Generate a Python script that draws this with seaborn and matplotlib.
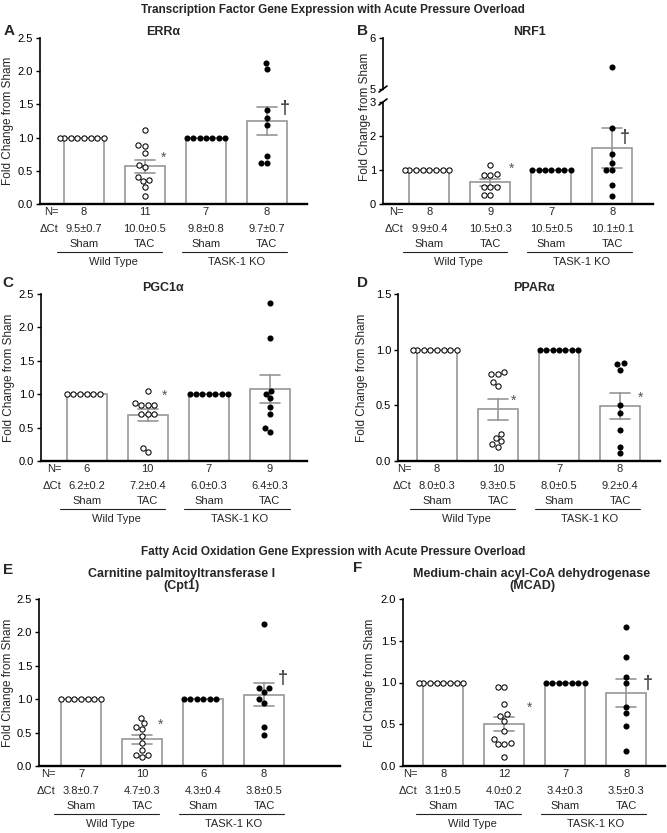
import numpy as np
import pandas as pd
import matplotlib
matplotlib.use("Agg")
import matplotlib.pyplot as plt
import matplotlib.transforms as mtransforms
from matplotlib.ticker import FormatStrFormatter
import seaborn as sns

sns.set_style("ticks")
plt.rcParams["font.family"] = ["Liberation Sans", "DejaVu Sans"]

W, H = 667, 833
groups = ["WT Sham", "WT TAC", "KO Sham", "KO TAC"]
cond_labels = ["Sham", "TAC", "Sham", "TAC"]
geno_labels = ["Wild Type", "TASK-1 KO"]

## A - ERRalpha
erra_wt_sham = [1, 1, 1, 1, 1, 1, 1, 1]
erra_wt_tac = [1.11, 0.87, 0.89, 0.77, 0.58, 0.55, 0.40, 0.36, 0.34, 0.25, 0.12]
erra_ko_sham = [1, 1, 1, 1, 1, 1, 1]
erra_ko_tac = [2.13, 2.04, 1.41, 1.29, 1.19, 0.73, 0.62, 0.62]
erra_n = ["8", "11", "7", "8"]
erra_dct = ["9.5±0.7", "10.0±0.5", "9.8±0.8", "9.7±0.7"]

## B - NRF1
nrf1_wt_sham = [1, 1, 1, 1, 1, 1, 1, 1]
nrf1_wt_tac = [1.15, 0.87, 0.85, 0.85, 0.49, 0.49, 0.49, 0.26, 0.26]
nrf1_ko_sham = [1, 1, 1, 1, 1, 1, 1]
nrf1_ko_tac = [5.44, 2.25, 1.47, 1.20, 1.00, 1.00, 0.56, 0.24]
nrf1_n = ["8", "9", "7", "8"]
nrf1_dct = ["9.9±0.4", "10.5±0.3", "10.5±0.5", "10.1±0.1"]

## C - PGC1alpha
pgc_wt_sham = [1, 1, 1, 1, 1, 1]
pgc_wt_tac = [1.05, 0.87, 0.84, 0.84, 0.84, 0.70, 0.70, 0.70, 0.19, 0.13]
pgc_ko_sham = [1, 1, 1, 1, 1, 1, 1]
pgc_ko_tac = [2.36, 1.84, 1.05, 1.01, 0.94, 0.81, 0.70, 0.50, 0.44]
pgc_n = ["6", "10", "7", "9"]
pgc_dct = ["6.2±0.2", "7.2±0.4", "6.0±0.3", "6.4±0.3"]

## D - PPARalpha
ppar_wt_sham = [1, 1, 1, 1, 1, 1, 1, 1]
ppar_wt_tac = [0.80, 0.78, 0.78, 0.71, 0.67, 0.24, 0.21, 0.18, 0.15, 0.13]
ppar_ko_sham = [1, 1, 1, 1, 1, 1, 1]
ppar_ko_tac = [0.88, 0.87, 0.82, 0.50, 0.43, 0.28, 0.13, 0.07]
ppar_n = ["8", "10", "7", "8"]
ppar_dct = ["8.0±0.3", "9.3±0.5", "8.0±0.5", "9.2±0.4"]

## E - Cpt1
cpt_wt_sham = [1, 1, 1, 1, 1, 1, 1]
cpt_wt_tac = [0.72, 0.64, 0.59, 0.55, 0.45, 0.34, 0.24, 0.17, 0.16, 0.14]
cpt_ko_sham = [1, 1, 1, 1, 1, 1]
cpt_ko_tac = [2.12, 1.17, 1.17, 1.11, 1.00, 0.94, 0.59, 0.46]
cpt_n = ["7", "10", "6", "8"]
cpt_dct = ["3.8±0.7", "4.7±0.3", "4.3±0.4", "3.8±0.5"]

## F - MCAD
mcad_wt_sham = [1, 1, 1, 1, 1, 1, 1, 1]
mcad_wt_tac = [0.95, 0.95, 0.74, 0.62, 0.60, 0.54, 0.42, 0.32, 0.28, 0.26, 0.26, 0.11]
mcad_ko_sham = [1, 1, 1, 1, 1, 1, 1]
mcad_ko_tac = [1.66, 1.31, 1.07, 0.99, 0.71, 0.63, 0.48, 0.18]
mcad_n = ["8", "12", "7", "8"]
mcad_dct = ["3.1±0.5", "4.0±0.2", "3.4±0.3", "3.5±0.3"]

BAR_GRAY = "#979797"
MARK_GRAY = "#555555"

fig = plt.figure(figsize=(6.67, 8.33), dpi=100)


def make_ax(left, right, top, bottom):
    return fig.add_axes([left / W, 1 - bottom / H, (right - left) / W, (bottom - top) / H])


def long_df(wt_sham, wt_tac, ko_sham, ko_tac):
    rows = []
    for g, vals, geno in zip(groups, [wt_sham, wt_tac, ko_sham, ko_tac], ["WT", "WT", "KO", "KO"]):
        for v in vals:
            rows.append((g, v, geno))
    return pd.DataFrame(rows, columns=["group", "value", "geno"])


def draw_data(ax, df):
    sns.barplot(data=df, x="group", y="value", order=groups, errorbar="se",
                color="white", edgecolor=BAR_GRAY, linewidth=1.2, width=0.66,
                capsize=0.33, err_kws={"color": BAR_GRAY, "linewidth": 1.2}, ax=ax)
    sns.swarmplot(data=df[df.geno == "WT"], x="group", y="value", order=groups,
                  color="white", edgecolor="black", linewidth=0.75, size=3.8,
                  warn_thresh=1, zorder=3, ax=ax)
    sns.swarmplot(data=df[df.geno == "KO"], x="group", y="value", order=groups,
                  color="black", linewidth=0, size=4.4,
                  warn_thresh=1, zorder=3, ax=ax)
    ax.set_xlabel("")
    ax.set_ylabel("")


def style_ax(ax, xlo, width_px, bottom_spine=True):
    ax.set_xlim(xlo, xlo + width_px / 61.0)
    ax.set_xticks([])
    ax.spines["top"].set_visible(False)
    ax.spines["right"].set_visible(False)
    ax.spines["left"].set_linewidth(1.2)
    ax.spines["left"].set_color("black")
    if bottom_spine:
        ax.spines["bottom"].set_linewidth(1.7)
        ax.spines["bottom"].set_color("black")
    else:
        ax.spines["bottom"].set_visible(False)
    ax.tick_params(axis="y", length=3, width=1, labelsize=8, pad=2, colors="black")


def offset_tr(ax, pts):
    return mtransforms.offset_copy(ax.get_xaxis_transform(), fig=fig, x=0, y=-pts, units="points")


def under_labels(ax, n_list, dct_list):
    t_n, t_d, t_c, t_l, t_g = [offset_tr(ax, p) for p in (5.8, 17.9, 28.6, 34.8, 42.1)]
    ax.text(-0.42, 0, "N=", transform=t_n, ha="right", va="center", fontsize=8)
    ax.text(-0.42, 0, "ΔCt", transform=t_d, ha="right", va="center", fontsize=8)
    for i in range(4):
        ax.text(i, 0, n_list[i], transform=t_n, ha="center", va="center", fontsize=8)
        ax.text(i, 0, dct_list[i], transform=t_d, ha="center", va="center", fontsize=8)
        ax.text(i, 0, cond_labels[i], transform=t_c, ha="center", va="center", fontsize=8)
    ax.plot([-0.44, 1.28], [0, 0], transform=t_l, color="#222222", lw=0.8, clip_on=False)
    ax.plot([1.6, 3.33], [0, 0], transform=t_l, color="#222222", lw=0.8, clip_on=False)
    ax.text(0.48, 0, geno_labels[0], transform=t_g, ha="center", va="center", fontsize=8)
    ax.text(2.5, 0, geno_labels[1], transform=t_g, ha="center", va="center", fontsize=8)


def add_marks(ax, marks):
    for x, y, kind in marks:
        if kind == "*":
            ax.annotate("*", (x, y), xytext=(0, -5.5), textcoords="offset points",
                        ha="center", va="baseline", fontsize=10, color=MARK_GRAY)
        else:
            ax.annotate("†", (x, y), xytext=(0, -3.6), textcoords="offset points",
                        ha="center", va="baseline", fontsize=13, fontweight="bold", color="#444444")


def set_ylab(ax, dx_px, width_px):
    ax.set_ylabel("Fold Change from Sham", fontsize=8.5)
    ax.yaxis.set_label_coords(-dx_px / width_px, 0.5)


def fig_text(x, y, s, **kw):
    fig.text(x / W, 1 - y / H, s, ha="center", va="center", **kw)


standard = [
    # letter, title, data, n, dct, ymax, (left, right, top, bottom), xlo, ylab dx, marks, title pos, letter pos
    ("A", "ERRα", (erra_wt_sham, erra_wt_tac, erra_ko_sham, erra_ko_tac), erra_n, erra_dct,
     2.5, (40, 307, 38, 204), -0.72, 26, [(1.31, 0.75, "*"), (3.30, 1.45, "†")],
     (163, 32), (9, 31)),
    ("C", "PGC1α", (pgc_wt_sham, pgc_wt_tac, pgc_ko_sham, pgc_ko_tac), pgc_n, pgc_dct,
     2.5, (41, 307, 294, 461), -0.75, 26, [(1.27, 1.03, "*")],
     (163, 288), (8, 283)),
    ("D", "PPARα", (ppar_wt_sham, ppar_wt_tac, ppar_ko_sham, ppar_ko_tac), ppar_n, ppar_dct,
     1.5, (398, 660, 294, 461), -0.64, 30, [(1.26, 0.57, "*"), (3.33, 0.60, "*")],
     (534, 288), (363, 283)),
    ("E", "Carnitine palmitoyltransferase I\n(Cpt1)", (cpt_wt_sham, cpt_wt_tac, cpt_ko_sham, cpt_ko_tac),
     cpt_n, cpt_dct, 2.5, (39, 340, 599, 766), -0.69, 25, [(1.31, 0.67, "*"), (3.30, 1.31, "†")],
     (182, 580), (8, 570)),
    ("F", "Medium-chain acyl-CoA dehydrogenase\n(MCAD)", (mcad_wt_sham, mcad_wt_tac, mcad_ko_sham, mcad_ko_tac),
     mcad_n, mcad_dct, 2.0, (403, 665, 599, 766), -0.66, 27, [(1.41, 0.74, "*"), (3.36, 1.00, "†")],
     (532, 580), (358, 568)),
]

for letter, title, data, n_list, dct_list, ymax, box, xlo, ylab_dx, marks, tpos, lpos in standard:
    left, right, top, bottom = box
    ax = make_ax(left, right, top, bottom)
    draw_data(ax, long_df(*data))
    style_ax(ax, xlo, right - left)
    ax.set_ylim(0, ymax)
    ax.set_yticks(np.arange(0, ymax + 0.01, 0.5))
    ax.yaxis.set_major_formatter(FormatStrFormatter("%.1f"))
    set_ylab(ax, ylab_dx, right - left)
    under_labels(ax, n_list, dct_list)
    add_marks(ax, marks)
    fig_text(tpos[0], tpos[1], title, fontsize=9, fontweight="bold", linespacing=1.1)
    fig_text(lpos[0], lpos[1], letter, fontsize=11, fontweight="bold")

## B - broken y axis
nrf1_df = long_df(nrf1_wt_sham, nrf1_wt_tac, nrf1_ko_sham, nrf1_ko_tac)
ax_lo = make_ax(383, 653, 102, 204)
ax_hi = make_ax(383, 653, 38, 89)
for a in (ax_lo, ax_hi):
    draw_data(a, nrf1_df)
style_ax(ax_lo, -0.76, 270)
style_ax(ax_hi, -0.76, 270, bottom_spine=False)
ax_lo.set_ylim(0, 3)
ax_lo.set_yticks([0, 1, 2, 3])
ax_hi.set_ylim(5, 6)
ax_hi.set_yticks([5, 6])
under_labels(ax_lo, nrf1_n, nrf1_dct)
add_marks(ax_lo, [(1.35, 1.15, "*"), (3.21, 1.98, "†")])
# break marks
dx = 4 / 270
ax_hi.plot([-dx, dx], [-3 / 51, 3 / 51], transform=ax_hi.transAxes, color="black", lw=1.2, clip_on=False)
ax_lo.plot([-dx, dx], [1 - 3 / 102, 1 + 3 / 102], transform=ax_lo.transAxes, color="black", lw=1.2, clip_on=False)
fig.text(365 / W, 1 - 117 / H, "Fold Change from Sham", rotation=90, ha="center", va="center", fontsize=8.5)
fig_text(529, 32, "NRF1", fontsize=9, fontweight="bold")
fig_text(362, 31, "B", fontsize=11, fontweight="bold")

fig_text(333, 10, "Transcription Factor Gene Expression with Acute Pressure Overload", fontsize=8.5, fontweight="bold")
fig_text(333, 552, "Fatty Acid Oxidation Gene Expression with Acute Pressure Overload", fontsize=8.5, fontweight="bold")

fig.savefig("out.png", dpi=100)
